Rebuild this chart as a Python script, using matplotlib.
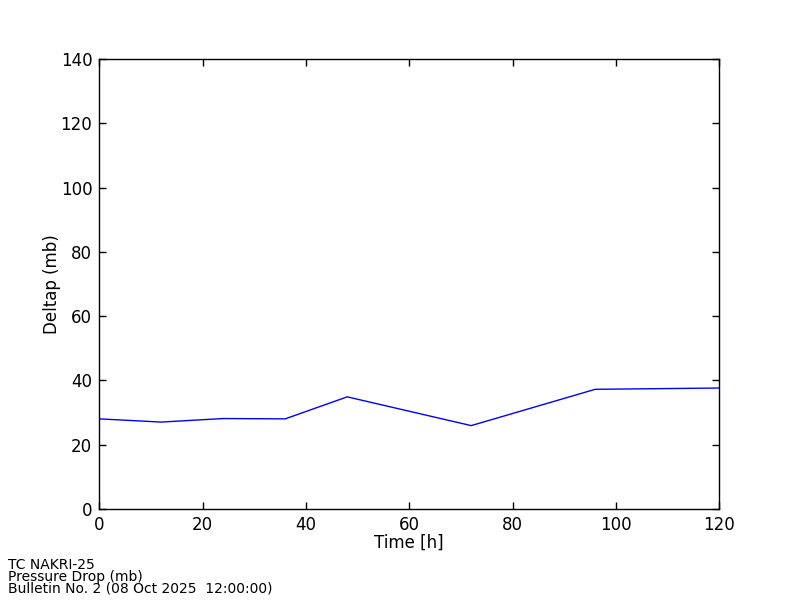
import matplotlib
matplotlib.use('Agg')
import matplotlib.pyplot as plt

# forecast hours and pressure drop (mb)
hours = [0, 12, 24, 36, 48, 72, 96, 120]
deltap = [28.0, 27.0, 28.1, 28.0, 34.85, 25.9, 37.2, 37.6]

footer = ['TC NAKRI-25', 'Pressure Drop (mb)', 'Bulletin No. 2 (08 Oct 2025  12:00:00)']

plt.rcParams['font.family'] = 'DejaVu Sans'

fig = plt.figure(figsize=(8, 6), dpi=100)
fig.patch.set_facecolor('white')
ax = fig.add_axes([0.124, 0.152, 0.775, 0.7495])

ax.plot(hours, deltap, color='#0000ff', linewidth=1)

ax.set_xlim(0, 120)
ax.set_ylim(0, 140)
ax.set_xticks(range(0, 121, 20))
ax.set_yticks(range(0, 141, 20))
ax.tick_params(direction='in', top=True, right=True, length=5, width=1,
               labelsize=12, pad=5, colors='black')
for s in ax.spines.values():
    s.set_linewidth(1)
ax.set_xlabel('Time [h]', fontsize=12, labelpad=0)
ax.set_ylabel('Deltap (mb)', fontsize=12, labelpad=0)

for i, line in enumerate(footer):
    fig.text(0.01, 0.0517 - 0.02 * i, line, fontsize=10, va='baseline', ha='left')

fig.savefig('out.png', dpi=100)
